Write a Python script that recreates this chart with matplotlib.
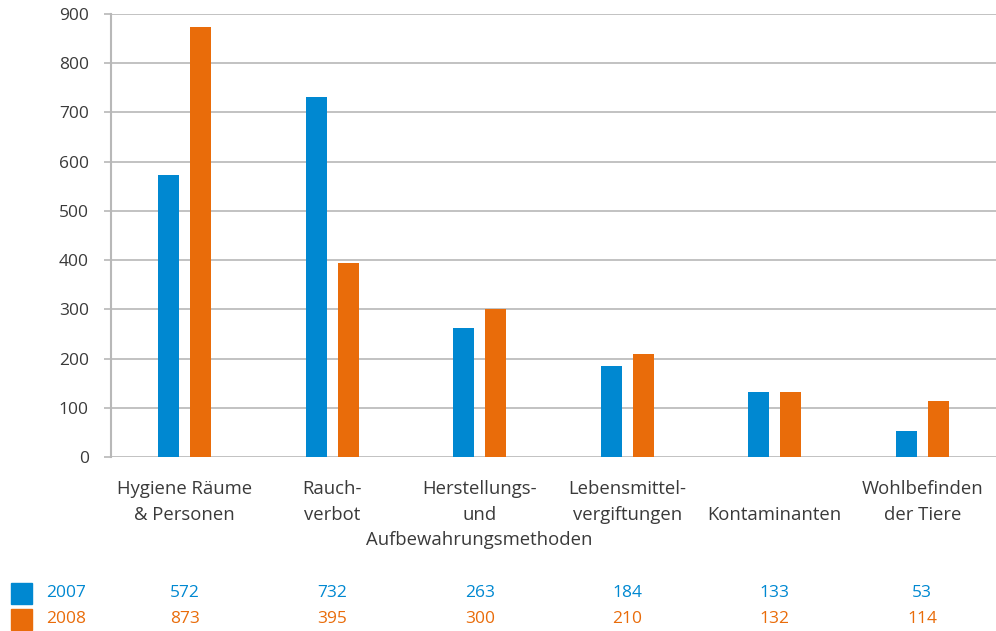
import matplotlib.pyplot as plt
import matplotlib.transforms as mtransforms
import numpy as np

plt.rcParams['font.family'] = ['Open Sans', 'DejaVu Sans']

categories = [
    "Hygiene Räume\n& Personen",
    "Rauch-\nverbot",
    "Herstellungs-\nund\nAufbewahrungsmethoden",
    "Lebensmittel-\nvergiftungen",
    "Kontaminanten",
    "Wohlbefinden\nder Tiere",
]
years = ["2007", "2008"]
values_2007 = [572, 732, 263, 184, 133, 53]
values_2008 = [873, 395, 300, 210, 132, 114]
yticks = [0, 100, 200, 300, 400, 500, 600, 700, 800, 900]

blue = "#0088d1"
orange = "#e96c0a"
grid_col = "#b8b8b8"
text_col = "#3a3a3a"

fig = plt.figure(figsize=(9.96, 6.31), dpi=100)
ax = fig.add_axes([0.1114, 0.2758, 0.8886, 0.702])

x = np.arange(len(categories)) + 0.5
w = 0.142
off = 0.109
ax.bar(x - off, values_2007, w, color=blue, zorder=3)
ax.bar(x + off, values_2008, w, color=orange, zorder=3)

ax.set_xlim(0, len(categories))
ax.set_ylim(0, 900)
ax.set_yticks(yticks)
ax.set_yticklabels([str(t) for t in yticks], fontsize=12.5, color=text_col)
ax.tick_params(axis='y', length=5, width=1.2, color=grid_col, pad=11)
ax.tick_params(axis='x', length=0)
ax.set_xticks([])
ax.grid(axis='y', color=grid_col, linewidth=1.2, zorder=0)
for side in ['top', 'right', 'bottom']:
    ax.spines[side].set_visible(False)
ax.spines['left'].set_color(grid_col)
ax.spines['left'].set_linewidth(1.5)

# category labels under the axis, one text per line;
# single-line labels sit on the second line
lab_tr = mtransforms.blended_transform_factory(ax.transData, fig.transFigure)
line_y = [489, 515, 540]
for xi, cat in zip(x, categories):
    lines = cat.split("\n")
    ys = line_y[1:] if len(lines) == 1 else line_y
    for ypix, line in zip(ys, lines):
        ax.text(xi, 1 - ypix / 631, line, transform=lab_tr, ha='center', va='center',
                fontsize=13.3, color=text_col, clip_on=False)

# value table with legend squares
rows = [(values_2007, blue, 593), (values_2008, orange, 619)]
for year, (vals, col, ypix) in zip(years, rows):
    yf = 1 - ypix / 631
    fig.patches.append(plt.Rectangle((11 / 996, yf - 11 / 631), 21 / 996, 21 / 631,
                                     transform=fig.transFigure, color=col))
    fig.text(46 / 996, yf, year, ha='left', va='center', fontsize=12.5, color=col)
    for xi, v in zip(x, vals):
        ax.text(xi, yf, str(v), transform=lab_tr, ha='center', va='center',
                fontsize=12.5, color=col, clip_on=False)

fig.savefig("out.png", dpi=100)
